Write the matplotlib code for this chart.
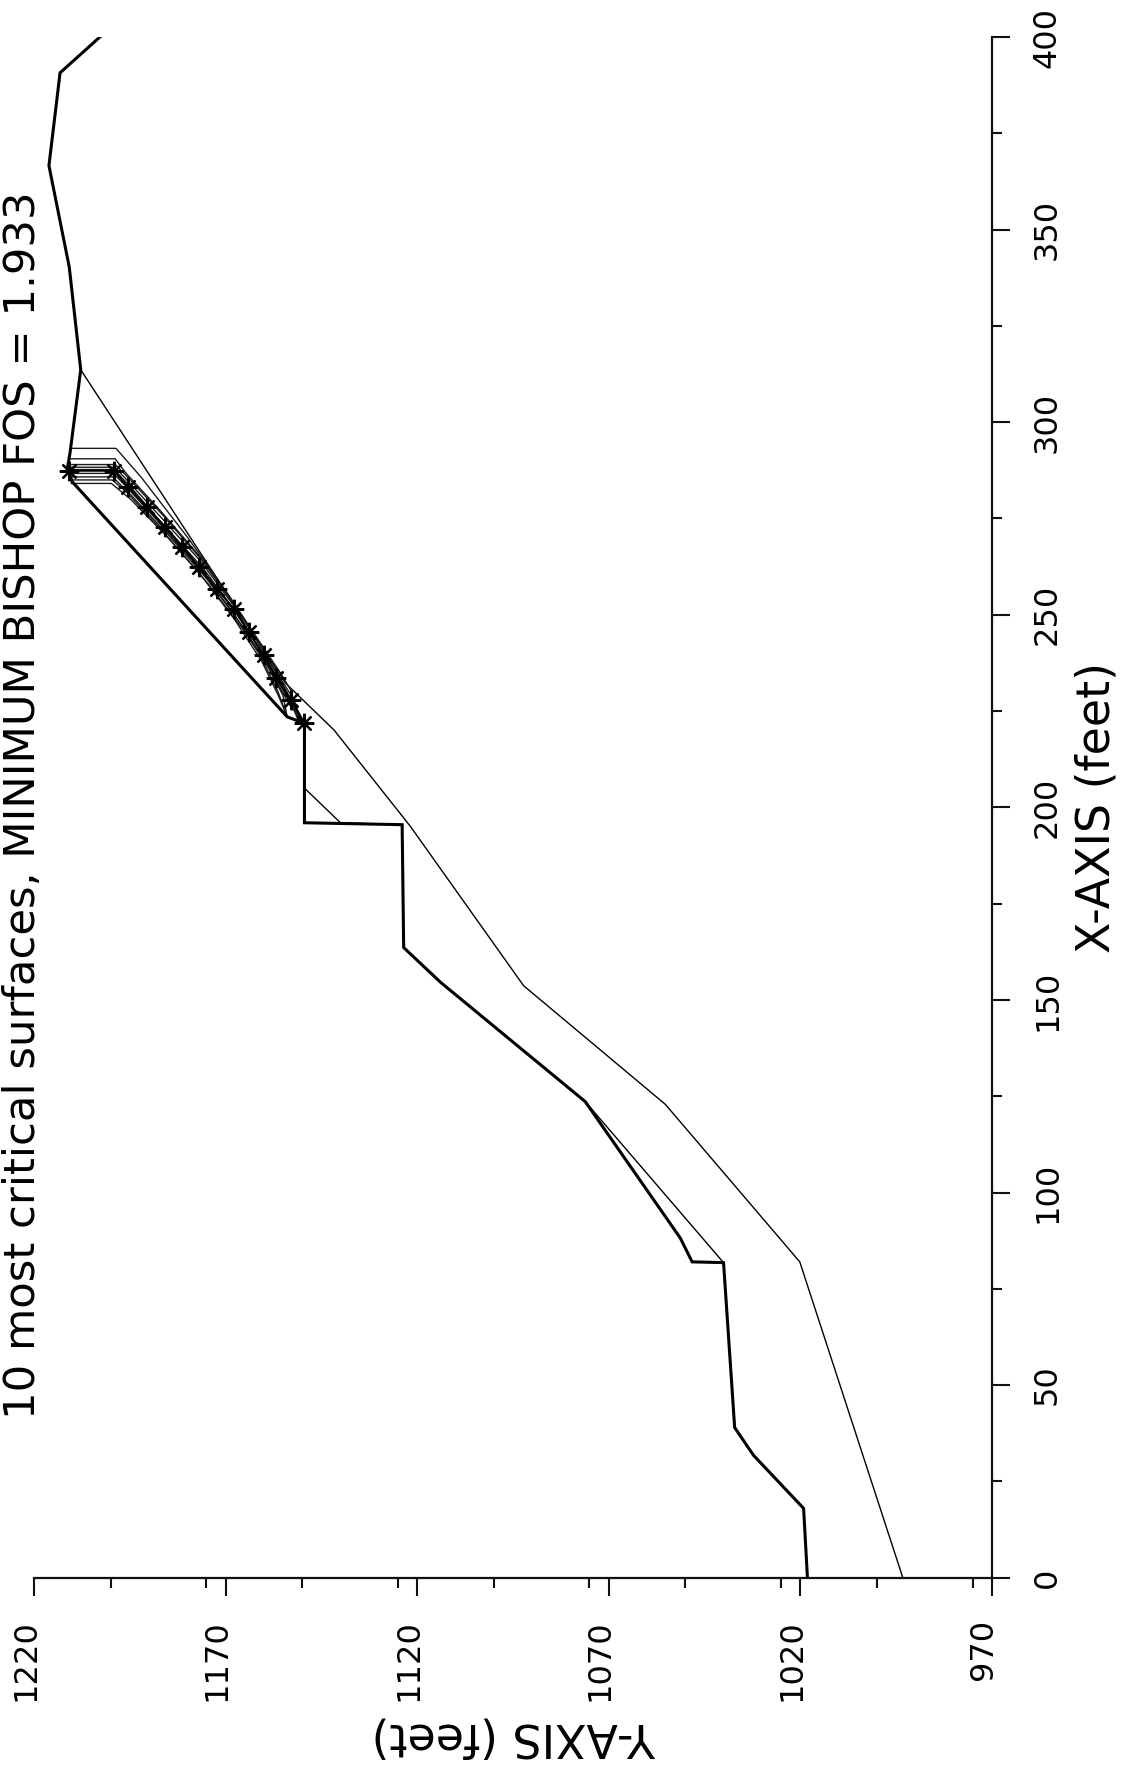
import matplotlib
matplotlib.use("Agg")
import matplotlib.pyplot as plt
from matplotlib.ticker import FixedLocator, MultipleLocator
import matplotlib.transforms as mtransforms

plt.rcParams['font.family'] = ['DejaVu Sans']

# ---------------- data (original chart coordinates, feet) ----------------
title_text = "10 most critical surfaces, MINIMUM BISHOP FOS = 1.933"
xlabel_text = "X-AXIS (feet)"
ylabel_text = "Y-AXIS (feet)"

x_ticks = [0, 50, 100, 150, 200, 250, 300, 350, 400]
y_ticks = [970, 1020, 1070, 1120, 1170, 1220]

# ground surface (thick line)
ground_x = [0.0, 18.0, 31.8, 39.0, 81.8, 82.0, 88.2, 123.6, 154.6, 163.6, 195.5, 196.0,
            221.8, 223.5, 284.5, 288.0, 292.0, 313.6, 340.3, 366.6, 390.7, 400.0]
ground_y = [1018.1, 1019.1, 1032.2, 1037.1, 1040.0, 1048.2, 1051.3, 1076.1, 1113.9, 1123.5, 1123.9, 1149.4,
            1149.4, 1153.9, 1210.0, 1211.3, 1210.6, 1207.8, 1210.8, 1216.1, 1213.2, 1202.8]

# upper layer boundary (thin)
layer1_x = [81.8, 123.6, 154.6, 163.6, 195.5, 196.0, 205.0]
layer1_y = [1040.0, 1076.1, 1113.9, 1123.5, 1123.9, 1140.0, 1149.4]

# lower layer boundary (thin)
layer2_x = [0.0, 82.0, 122.9, 153.7, 195.0, 220.1, 232.2, 313.6]
layer2_y = [993.2, 1020.1, 1055.2, 1092.2, 1121.7, 1141.7, 1154.3, 1207.8]

# most critical surface (with star markers)
crit_x = [221.8, 227.9, 233.6, 239.5, 245.4, 251.4, 256.6, 262.3, 267.7, 272.8, 278.0, 283.1, 287.4, 287.4]
crit_y = [1149.4, 1152.8, 1156.7, 1160.0, 1163.9, 1167.8, 1172.1, 1176.8, 1181.3, 1185.8, 1190.6, 1195.4, 1199.1, 1210.8]

# the other nine critical surfaces (thin)
surf1_x = [222.5, 230.5, 234.8, 245.2, 255.6, 270.2, 285.8, 293.2, 293.2]
surf1_y = [1151.0, 1153.0, 1155.6, 1162.6, 1169.5, 1180.0, 1192.1, 1198.6, 1210.4]
surf2_x = [222.0, 228.5, 240.0, 252.0, 264.0, 276.0, 286.0, 289.0, 289.0]
surf2_y = [1150.0, 1152.5, 1159.8, 1167.3, 1176.0, 1186.5, 1195.8, 1198.8, 1210.6]
surf3_x = [223.5, 229.0, 240.0, 252.0, 264.0, 276.0, 285.5, 288.3, 288.3]
surf3_y = [1153.9, 1155.0, 1160.6, 1167.6, 1176.6, 1187.5, 1196.2, 1199.0, 1210.7]
surf4_x = [221.8, 228.0, 238.0, 250.0, 262.0, 274.0, 284.0, 287.7, 287.7]
surf4_y = [1149.4, 1153.5, 1159.0, 1166.8, 1175.8, 1186.8, 1195.5, 1199.2, 1210.8]
surf5_x = [223.5, 230.0, 240.0, 251.0, 263.0, 275.0, 284.0, 286.7, 286.7]
surf5_y = [1153.9, 1156.3, 1161.2, 1168.3, 1177.7, 1188.3, 1196.6, 1199.3, 1210.9]
surf6_x = [221.8, 227.0, 236.0, 247.0, 259.0, 271.0, 281.0, 285.8, 285.8]
surf6_y = [1149.4, 1153.0, 1158.3, 1165.6, 1174.6, 1185.2, 1194.6, 1199.5, 1211.0]
surf7_x = [223.5, 229.0, 238.0, 249.0, 261.0, 273.0, 282.0, 285.0, 285.0]
surf7_y = [1153.9, 1156.2, 1160.6, 1167.8, 1177.0, 1187.6, 1196.0, 1199.6, 1210.6]
surf8_x = [221.8, 226.5, 235.0, 246.0, 258.0, 270.0, 280.0, 284.1, 284.1]
surf8_y = [1149.4, 1153.2, 1158.0, 1165.3, 1174.5, 1185.0, 1194.8, 1199.8, 1210.3]
surf9_x = [222.5, 230.0, 241.0, 253.0, 265.0, 277.0, 287.0, 290.5, 290.5]
surf9_y = [1151.0, 1154.0, 1160.3, 1167.8, 1176.6, 1187.0, 1196.2, 1198.8, 1210.5]

# ---------------- figure (page is rotated 90 degrees) ----------------
W, H = 1125, 1769
fig = plt.figure(figsize=(W / 100, H / 100), dpi=100)
fig.patch.set_facecolor('white')


def fx(px):
    return px / W


def fy(py):
    return 1 - py / H


ax = fig.add_axes([fx(34), fy(1577.7), fx(991.7) - fx(34), fy(37) - fy(1577.7)])
ax.set_facecolor('none')
# horizontal axis carries the original Y values (reversed), vertical carries X
ax.set_xlim(1220, 970)
ax.set_ylim(0, 400)

thin = dict(color='black', lw=1.0, solid_joinstyle='miter')
ax.plot(layer2_y, layer2_x, **thin)
ax.plot(layer1_y, layer1_x, **thin)
for sx, sy in [(surf1_x, surf1_y), (surf2_x, surf2_y), (surf3_x, surf3_y),
               (surf4_x, surf4_y), (surf5_x, surf5_y), (surf6_x, surf6_y),
               (surf7_x, surf7_y), (surf8_x, surf8_y), (surf9_x, surf9_y)]:
    ax.plot(sy, sx, color='#1a1a1a', lw=1.0)
ax.plot(ground_y, ground_x, color='black', lw=2.2, solid_joinstyle='miter')
ax.plot(crit_y, crit_x, color='black', lw=1.5, marker=(8, 2, 0), ms=14, mew=1.6)

for s in ['left', 'top']:
    ax.spines[s].set_visible(False)
for s in ['right', 'bottom']:
    ax.spines[s].set_linewidth(1.6)
    ax.spines[s].set_color('#111111')

ax.yaxis.tick_right()
ax.xaxis.set_major_locator(FixedLocator(y_ticks))
ax.xaxis.set_minor_locator(MultipleLocator(25))
ax.yaxis.set_major_locator(FixedLocator(x_ticks))
ax.yaxis.set_minor_locator(MultipleLocator(25))
ax.set_xticklabels([str(v) for v in y_ticks])
ax.set_yticklabels([str(v) for v in x_ticks])

ax.tick_params(axis='both', which='major', direction='out', length=13, width=1.5,
               color='#111111', labelsize=23)
ax.tick_params(axis='both', which='minor', direction='out', length=7, width=1.5,
               color='#111111')
ax.tick_params(axis='x', which='major', pad=17)
ax.tick_params(axis='y', which='major', pad=16)

xoff = mtransforms.ScaledTranslation(7 / 100, 0, fig.dpi_scale_trans)
for lab in ax.get_xticklabels():
    lab.set_rotation(90)
    lab.set_ha('right')
    lab.set_va('top')
    lab.set_transform(lab.get_transform() + xoff)
for lab in ax.get_yticklabels():
    lab.set_rotation(90)
    lab.set_va('center')
    lab.set_ha('left')

# axis titles and chart title, placed as on the rotated page
fig.text(fx(1110), fy(807), xlabel_text, rotation=90, rotation_mode='anchor',
         ha='center', va='baseline', fontsize=33)
fig.text(fx(514), fy(1723), ylabel_text, rotation=180, rotation_mode='anchor',
         ha='center', va='baseline', fontsize=33)
title_x_px = 17.5
t = fig.text(fx(title_x_px), fy(805.6), title_text, rotation=90, rotation_mode='anchor',
             ha='center', va='baseline', fontsize=36)

# fit the title length to the page and keep it inside the left edge
renderer = fig.canvas.get_renderer()
fig.canvas.draw()
bb = t.get_window_extent(renderer)
t.set_fontsize(36 * 1227.0 / bb.height)
fig.canvas.draw()
bb = t.get_window_extent(renderer)
if bb.x0 < 2:
    title_x_px += 2 - bb.x0
    t.set_x(fx(title_x_px))

fig.savefig('out.png', dpi=100, facecolor='white')
